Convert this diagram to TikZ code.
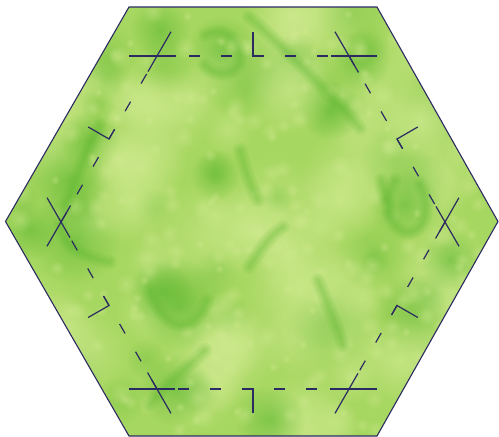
\documentclass[tikz,border=0pt]{standalone}
\usetikzlibrary{calc,fadings}
\definecolor{hexline}{HTML}{2C2A62}
\definecolor{hexbase}{HTML}{A6D760}
\definecolor{hexlight}{HTML}{D2EB92}
\definecolor{hexdark}{HTML}{5FB832}
\tikzfading[name=blobfade, inner color=transparent!0, outer color=transparent!100]
\begin{document}
\begin{tikzpicture}[
    x=1pt, y=-1pt,
    outline/.style={draw=hexline, line width=1.1pt, line join=miter},
    seam/.style={draw=hexline, line width=1.2pt, dash pattern=on 11pt off 21pt},
    cutmark/.style={draw=hexline, line width=1.2pt},
    blobdark/.style={fill=hexdark, path fading=blobfade, opacity=#1},
    blobdark/.default=0.55,
    bloblight/.style={fill=hexlight, path fading=blobfade, opacity=#1},
    bloblight/.default=0.6,
    vein/.style={draw=hexdark, line width=#1, opacity=0.11, line cap=round, line join=round},
    vein/.default=4pt
]
    \useasboundingbox (0,0) rectangle (499,437);

    % outer hexagon corners
    \coordinate (o1) at (129,7);
    \coordinate (o2) at (377,7);
    \coordinate (o3) at (498,221.5);
    \coordinate (o4) at (377,436);
    \coordinate (o5) at (129,436);
    \coordinate (o6) at (5.5,221.5);

    % seam corners (clockwise)
    \coordinate (v1) at (157,56);
    \coordinate (v2) at (349,56);
    \coordinate (v3) at (445,222);
    \coordinate (v4) at (349,389);
    \coordinate (v5) at (157,389);
    \coordinate (v6) at (61,222);

    % fabric
    \begin{scope}
        \clip (o1) -- (o2) -- (o3) -- (o4) -- (o5) -- (o6) -- cycle;
        \fill[hexbase] (0,0) rectangle (499,437);
        \pgfmathsetseed{2718}
        \foreach \i in {1,...,70} {
            \pgfmathsetmacro{\bx}{random(0,499)}
            \pgfmathsetmacro{\by}{random(0,437)}
            \pgfmathsetmacro{\br}{random(20,60)}
            \fill[bloblight=0.5] (\bx,\by) circle (\br pt);
        }
        \foreach \i in {1,...,45} {
            \pgfmathsetmacro{\bx}{random(0,499)}
            \pgfmathsetmacro{\by}{random(0,437)}
            \pgfmathsetmacro{\br}{random(15,45)}
            \fill[blobdark=0.3] (\bx,\by) circle (\br pt);
        }
        % darker patches
        \foreach \bx/\by/\br in {222/50/34, 160/30/30, 70/180/45, 90/140/30,
                                 75/240/45, 180/305/45, 160/290/30, 405/205/36,
                                 360/60/30, 30/230/30, 175/390/36, 270/420/35,
                                 330/110/30, 450/260/30, 215/175/25}
            \fill[blobdark=0.6] (\bx,\by) circle (\br pt);
        % pale patches
        \foreach \bx/\by/\br in {300/290/60, 290/90/45, 250/230/45, 400/360/45,
                                 130/200/45, 120/160/35, 420/120/40, 60/330/40,
                                 230/340/40, 340/200/45}
            \fill[bloblight=0.7] (\bx,\by) circle (\br pt);
        % fine mottling
        \foreach \i in {1,...,260} {
            \pgfmathsetmacro{\bx}{random(20,480)}
            \pgfmathsetmacro{\by}{random(10,430)}
            \pgfmathsetmacro{\br}{random(5,12)}
            \fill[bloblight=0.4] (\bx,\by) circle (\br pt);
        }
        % veins
        \foreach \w in {14pt,10pt,6pt,3pt} {
            \draw[vein=\w] (249,17) .. controls (270,35) and (285,50) .. (305,70)
                .. controls (330,95) and (345,110) .. (360,128);
            \draw[vein=\w] (205,35) .. controls (225,25) and (240,40) .. (240,60)
                .. controls (238,75) and (215,78) .. (205,65);
            \draw[vein=\w] (100,125) .. controls (85,150) and (75,185) .. (62,215)
                .. controls (55,235) and (70,255) .. (110,262);
            \draw[vein=\w] (150,290) .. controls (165,335) and (195,335) .. (207,300);
            \draw[vein=\w] (205,350) .. controls (185,370) and (165,385) .. (150,405);
            \draw[vein=\w] (249,267) .. controls (260,250) and (270,235) .. (283,227);
            \draw[vein=\w] (318,280) .. controls (325,300) and (335,320) .. (343,345);
            \draw[vein=\w] (395,180) .. controls (385,195) and (385,225) .. (405,232)
                .. controls (425,235) and (432,205) .. (420,185);
            \draw[vein=\w] (381,180) .. controls (385,195) and (387,205) .. (389,217);
            \draw[vein=\w] (240,150) .. controls (245,170) and (250,185) .. (258,200);
        }
    \end{scope}
    \draw[outline] (o1) -- (o2) -- (o3) -- (o4) -- (o5) -- (o6) -- cycle;

    % seam lines with corner crosses and midpoint marks
    \foreach \a/\b in {v1/v2, v2/v3, v3/v4, v4/v5, v5/v6, v6/v1} {
        \draw[seam] (\a) -- (\b);
        \draw[cutmark] ($(\a)!-28pt!(\b)$) -- ($(\a)!19pt!(\b)$);
        \draw[cutmark] ($(\b)!-28pt!(\a)$) -- ($(\b)!18pt!(\a)$);
        \coordinate (mid) at ($(\a)!0.5!(\b)$);
        \draw[cutmark] ($(mid)!24pt!90:(\b)$) -- (mid) -- ($(mid)!11pt!(\b)$);
    }
\end{tikzpicture}
\end{document}
